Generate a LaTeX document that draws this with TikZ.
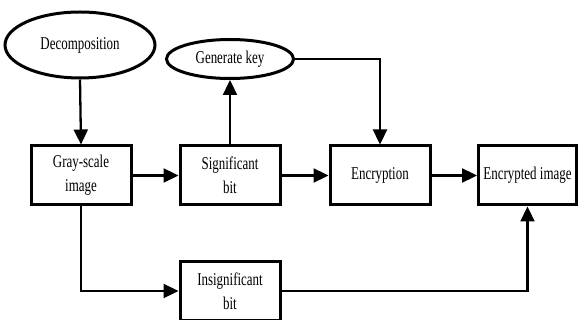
\documentclass[tikz,border=0pt]{standalone}
\usepackage{fontspec}
\newfontfamily\diagfont[FakeStretch=0.72]{Liberation Serif}
\usetikzlibrary{arrows.meta,shapes.geometric}
\begin{document}
\begin{tikzpicture}[x=1pt,y=-1pt,
  every node/.style={font=\diagfont\fontsize{18}{24}\selectfont, align=center, inner sep=0pt},
  blk/.style={draw, rectangle, line width=3pt, minimum width=100pt, minimum height=59pt},
  ell/.style={draw, ellipse, line width=3pt},
  conn/.style={line width=2.3pt, -{Triangle[length=15pt,width=14pt]}}]
\useasboundingbox (0,0) rectangle (578,320);
\node[ell, minimum width=150pt, minimum height=66pt] (dec) at (80,45) {Decomposition};
\node[ell, minimum width=127pt, minimum height=39pt] (key) at (230,59) {Generate key};
\node[blk] (gray) at (81,175.5) {Gray-scale\\image};
\node[blk] (sig) at (230,175.5) {Significant\\bit};
\node[blk] (enc) at (380,175.5) {Encryption};
\node[blk, minimum width=98pt] (out) at (527.5,175.5) {Encrypted image};
\node[blk, minimum height=58pt] (ins) at (230,291) {Insignificant\\bit};
\draw[conn] (dec.south) -- (gray.north);
\draw[conn] (sig.north) -- (key.south);
\draw[conn] (key.east) -| (enc.north);
\draw[conn] (gray.east) -- (sig.west);
\draw[conn] (sig.east) -- (enc.west);
\draw[conn] (enc.east) -- (out.west);
\draw[conn] (gray.south) |- (ins.west);
\draw[conn] (ins.east) -| (out.south);
\end{tikzpicture}
\end{document}
